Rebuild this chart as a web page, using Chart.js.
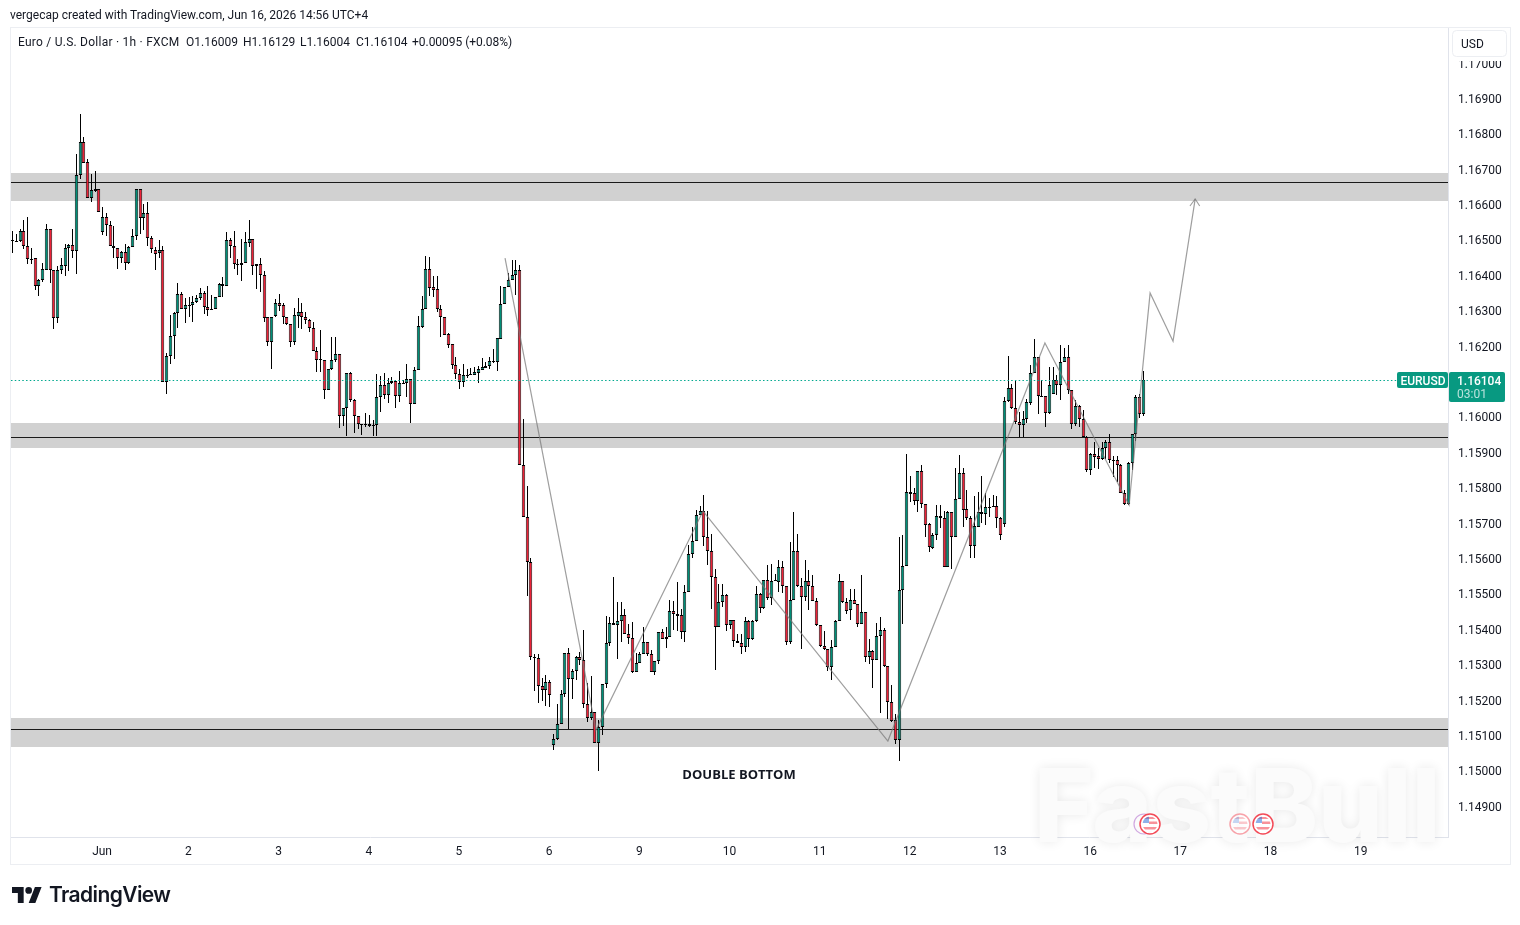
<!DOCTYPE html>
<html>
<head>
<meta charset="utf-8">
<title>EURUSD 1h</title>
<script src="https://cdn.jsdelivr.net/npm/chart.js@4/dist/chart.umd.min.js"></script>
<style>
  html, body { margin: 0; padding: 0; background: #fff; width: 1520px; height: 925px; overflow: hidden; }
  canvas { position: absolute; left: 0; top: 0; }
  .txt { position: absolute; white-space: pre; color: #131722; font-family: Roboto, sans-serif; font-size: 12px; line-height: 16px; }
  #credit { left: 10px; top: 7px; }
  .ohlc { top: 34px; }
  #brand { left: 49px; top: 881px; font-family: Inter, sans-serif; font-weight: 600; font-size: 21px; line-height: 28px; color: #131722; letter-spacing: -0.6px; }
  #logo { position: absolute; left: 12px; top: 887px; }
</style>
</head>
<body>
<canvas id="c" width="1520" height="925"></canvas>
<div class="txt" id="credit">vergecap created with TradingView.com, Jun 16, 2026 14:56 UTC+4</div>
<div class="txt ohlc" style="left:18px;letter-spacing:.24px">Euro / U.S. Dollar · 1h · FXCM</div>
<div class="txt ohlc" style="left:186px">O1.16009</div>
<div class="txt ohlc" style="left:243px">H1.16129</div>
<div class="txt ohlc" style="left:300px">L1.16004</div>
<div class="txt ohlc" style="left:356px">C1.16104</div>
<div class="txt ohlc" style="left:412px;letter-spacing:-.03px">+0.00095 (+0.08%)</div>
<svg id="logo" width="30" height="16" viewBox="0 0 36 19"><path fill="#131722" d="M14 19H7V7H0V0h14zM28 19h-8l7.5-19h8z"/><circle fill="#131722" cx="20" cy="4" r="4"/></svg>
<div class="txt" id="brand">TradingView</div>
<script>
// Hourly EURUSD candles, one entry per bar.
const opens = [
1.16499,1.16498,1.16497,1.16524,1.16484,1.16444,1.16448,1.16371,1.16388,1.16415,
1.16532,1.16416,1.16280,1.16414,1.16427,1.16476,1.16487,1.16470,1.16685,1.16778,
1.16719,1.16620,1.16643,1.16643,1.16523,1.16566,1.16541,1.16484,1.16476,1.16448,
1.16465,1.16436,1.16479,1.16510,1.16644,1.16563,1.16575,1.16507,1.16473,1.16462,
1.16473,1.16100,1.16173,1.16229,1.16295,1.16346,1.16305,1.16314,1.16315,1.16326,
1.16337,1.16351,1.16311,1.16306,1.16306,1.16340,1.16377,1.16369,1.16501,1.16484,
1.16433,1.16430,1.16436,1.16492,1.16504,1.16427,1.16433,1.16402,1.16281,1.16213,
1.16284,1.16321,1.16315,1.16283,1.16264,1.16211,1.16285,1.16296,1.16281,1.16274,
1.16252,1.16185,1.16163,1.16160,1.16077,1.16135,1.16160,1.16177,1.16004,1.16024,
1.16123,1.16047,1.16002,1.15981,1.15981,1.15979,1.15976,1.15976,1.16055,1.16089,
1.16063,1.16095,1.16101,1.16058,1.16093,1.16095,1.16106,1.16037,1.16132,1.16254,
1.16304,1.16417,1.16366,1.16361,1.16304,1.16281,1.16233,1.16205,1.16148,1.16122,
1.16100,1.16117,1.16119,1.16119,1.16125,1.16134,1.16138,1.16145,1.16154,1.16154,
1.16220,1.16318,1.16366,1.16386,1.16401,1.16414,1.15863,1.15716,1.15589,1.15323,
1.15320,1.15241,1.15229,1.15252,1.15074,1.15090,1.15131,1.15218,1.15332,1.15260,
1.15283,1.15323,1.15312,1.15190,1.15149,1.15165,1.15079,1.15123,1.15244,1.15362,
1.15419,1.15413,1.15424,1.15441,1.15388,1.15376,1.15279,1.15306,1.15331,1.15365,
1.15331,1.15279,1.15311,1.15393,1.15373,1.15378,1.15453,1.15444,1.15439,1.15391,
1.15504,1.15614,1.15650,1.15724,1.15735,1.15662,1.15622,1.15549,1.15407,1.15478,
1.15498,1.15413,1.15427,1.15368,1.15362,1.15351,1.15422,1.15373,1.15422,1.15501,
1.15460,1.15540,1.15487,1.15537,1.15534,1.15577,1.15521,1.15363,1.15484,1.15622,
1.15521,1.15491,1.15537,1.15523,1.15481,1.15413,1.15354,1.15345,1.15293,1.15351,
1.15422,1.15537,1.15478,1.15454,1.15482,1.15472,1.15414,1.15448,1.15321,1.15338,
1.15312,1.15380,1.15397,1.15295,1.15194,1.15143,1.15088,1.15510,1.15578,1.15787,
1.15784,1.15762,1.15847,1.15753,1.15698,1.15631,1.15666,1.15719,1.15714,1.15575,
1.15731,1.15662,1.15767,1.15841,1.15739,1.15714,1.15634,1.15690,1.15731,1.15727,
1.15743,1.15745,1.15747,1.15714,1.15697,1.16044,1.16083,1.16026,1.15986,1.15977,
1.15993,1.16040,1.16123,1.16168,1.16059,1.16060,1.16011,1.16065,1.16104,1.16089,
1.16154,1.16168,1.16075,1.15980,1.16032,1.15993,1.15944,1.15851,1.15896,1.15889,
1.15882,1.15911,1.15928,1.15877,1.15877,1.15863,1.15786,1.15754,1.15871,1.15953,
1.16055,1.16009];
const closes = [
1.16501,1.16497,1.16524,1.16484,1.16445,1.16447,1.16371,1.16388,1.16419,1.16532,
1.16416,1.16280,1.16414,1.16428,1.16476,1.16487,1.16470,1.16685,1.16778,1.16718,
1.16620,1.16640,1.16639,1.16578,1.16566,1.16541,1.16484,1.16476,1.16448,1.16465,
1.16436,1.16479,1.16510,1.16644,1.16563,1.16575,1.16507,1.16474,1.16461,1.16473,
1.16100,1.16173,1.16230,1.16295,1.16346,1.16305,1.16315,1.16315,1.16326,1.16337,
1.16351,1.16311,1.16303,1.16303,1.16340,1.16377,1.16369,1.16501,1.16484,1.16433,
1.16432,1.16435,1.16493,1.16504,1.16427,1.16433,1.16402,1.16280,1.16213,1.16283,
1.16321,1.16314,1.16283,1.16264,1.16211,1.16287,1.16296,1.16281,1.16273,1.16252,
1.16185,1.16162,1.16160,1.16077,1.16135,1.16160,1.16177,1.16004,1.16024,1.16123,
1.16047,1.16002,1.15981,1.15979,1.15979,1.15973,1.15973,1.16055,1.16089,1.16063,
1.16095,1.16102,1.16058,1.16095,1.16095,1.16106,1.16037,1.16132,1.16256,1.16304,
1.16417,1.16365,1.16359,1.16304,1.16281,1.16232,1.16204,1.16148,1.16122,1.16100,
1.16118,1.16119,1.16120,1.16126,1.16135,1.16140,1.16145,1.16157,1.16157,1.16222,
1.16318,1.16366,1.16386,1.16401,1.16414,1.15863,1.15716,1.15589,1.15323,1.15321,
1.15241,1.15229,1.15252,1.15213,1.15091,1.15131,1.15218,1.15332,1.15260,1.15283,
1.15323,1.15312,1.15190,1.15149,1.15165,1.15079,1.15123,1.15244,1.15362,1.15419,
1.15413,1.15424,1.15441,1.15388,1.15375,1.15279,1.15306,1.15331,1.15365,1.15330,
1.15279,1.15311,1.15393,1.15373,1.15378,1.15453,1.15443,1.15437,1.15391,1.15504,
1.15614,1.15650,1.15724,1.15735,1.15662,1.15622,1.15548,1.15407,1.15478,1.15498,
1.15413,1.15427,1.15367,1.15361,1.15351,1.15422,1.15373,1.15422,1.15501,1.15460,
1.15540,1.15487,1.15537,1.15539,1.15577,1.15521,1.15364,1.15484,1.15622,1.15521,
1.15491,1.15537,1.15522,1.15481,1.15412,1.15353,1.15344,1.15293,1.15351,1.15422,
1.15537,1.15478,1.15453,1.15482,1.15470,1.15414,1.15448,1.15321,1.15338,1.15312,
1.15380,1.15397,1.15295,1.15194,1.15141,1.15088,1.15510,1.15578,1.15787,1.15783,
1.15762,1.15847,1.15753,1.15696,1.15632,1.15666,1.15719,1.15713,1.15575,1.15731,
1.15662,1.15767,1.15841,1.15738,1.15713,1.15634,1.15691,1.15731,1.15727,1.15745,
1.15745,1.15748,1.15713,1.15665,1.16044,1.16083,1.16026,1.15986,1.15977,1.15993,
1.16041,1.16123,1.16168,1.16059,1.16057,1.16011,1.16091,1.16104,1.16089,1.16154,
1.16168,1.16075,1.15980,1.16032,1.15993,1.15944,1.15851,1.15896,1.15887,1.15882,
1.15911,1.15928,1.15877,1.15875,1.15863,1.15786,1.15754,1.15871,1.15953,1.16055,
1.16007,1.16104];
const highs = [
1.16525,1.16518,1.16530,1.16556,1.16564,1.16476,1.16448,1.16391,1.16434,1.16545,
1.16532,1.16416,1.16426,1.16450,1.16490,1.16490,1.16530,1.16742,1.16855,1.16790,
1.16730,1.16686,1.16694,1.16643,1.16592,1.16577,1.16555,1.16539,1.16476,1.16469,
1.16490,1.16484,1.16532,1.16644,1.16644,1.16601,1.16606,1.16511,1.16479,1.16501,
1.16482,1.16182,1.16287,1.16296,1.16378,1.16352,1.16335,1.16339,1.16343,1.16344,
1.16364,1.16355,1.16369,1.16344,1.16340,1.16379,1.16394,1.16522,1.16507,1.16525,
1.16445,1.16504,1.16523,1.16556,1.16504,1.16433,1.16450,1.16413,1.16281,1.16283,
1.16332,1.16347,1.16321,1.16283,1.16264,1.16307,1.16337,1.16321,1.16296,1.16278,
1.16269,1.16199,1.16246,1.16160,1.16135,1.16227,1.16225,1.16177,1.16024,1.16123,
1.16128,1.16050,1.16002,1.15981,1.16010,1.16005,1.15991,1.16120,1.16116,1.16123,
1.16109,1.16114,1.16101,1.16131,1.16104,1.16150,1.16106,1.16141,1.16285,1.16342,
1.16455,1.16451,1.16398,1.16398,1.16316,1.16281,1.16238,1.16205,1.16170,1.16135,
1.16150,1.16135,1.16137,1.16142,1.16144,1.16167,1.16156,1.16168,1.16192,1.16222,
1.16370,1.16366,1.16406,1.16443,1.16443,1.16428,1.15993,1.15804,1.15600,1.15330,
1.15330,1.15263,1.15272,1.15258,1.15103,1.15188,1.15228,1.15332,1.15347,1.15289,
1.15325,1.15337,1.15398,1.15249,1.15268,1.15165,1.15145,1.15244,1.15437,1.15435,
1.15548,1.15477,1.15477,1.15458,1.15416,1.15421,1.15334,1.15336,1.15405,1.15365,
1.15342,1.15311,1.15393,1.15400,1.15407,1.15482,1.15479,1.15534,1.15458,1.15524,
1.15637,1.15689,1.15736,1.15748,1.15779,1.15733,1.15670,1.15571,1.15529,1.15529,
1.15501,1.15427,1.15427,1.15388,1.15388,1.15435,1.15427,1.15427,1.15521,1.15503,
1.15540,1.15581,1.15585,1.15557,1.15597,1.15592,1.15521,1.15646,1.15730,1.15670,
1.15546,1.15595,1.15567,1.15553,1.15488,1.15413,1.15395,1.15345,1.15369,1.15427,
1.15557,1.15537,1.15489,1.15514,1.15514,1.15472,1.15553,1.15450,1.15372,1.15342,
1.15419,1.15435,1.15403,1.15295,1.15243,1.15161,1.15661,1.15667,1.15895,1.15833,
1.15800,1.15847,1.15864,1.15753,1.15699,1.15671,1.15751,1.15751,1.15735,1.15735,
1.15731,1.15856,1.15893,1.15855,1.15794,1.15720,1.15777,1.15789,1.15833,1.15786,
1.15770,1.15780,1.15777,1.15716,1.16056,1.16172,1.16092,1.16104,1.16014,1.16016,
1.16052,1.16148,1.16219,1.16168,1.16104,1.16060,1.16141,1.16141,1.16118,1.16203,
1.16195,1.16203,1.16075,1.16047,1.16035,1.16019,1.15945,1.15898,1.15929,1.15911,
1.15929,1.15934,1.15951,1.15889,1.15889,1.15868,1.15793,1.15873,1.15953,1.16063,
1.16066,1.16129];
const lows = [
1.16464,1.16497,1.16495,1.16474,1.16433,1.16433,1.16358,1.16342,1.16382,1.16415,
1.16379,1.16249,1.16266,1.16405,1.16399,1.16412,1.16449,1.16404,1.16673,1.16718,
1.16620,1.16606,1.16636,1.16578,1.16513,1.16512,1.16484,1.16448,1.16418,1.16436,
1.16416,1.16433,1.16479,1.16499,1.16518,1.16528,1.16483,1.16462,1.16416,1.16450,
1.16100,1.16065,1.16149,1.16164,1.16252,1.16305,1.16266,1.16283,1.16269,1.16323,
1.16330,1.16292,1.16286,1.16303,1.16306,1.16339,1.16339,1.16369,1.16449,1.16419,
1.16400,1.16384,1.16436,1.16481,1.16400,1.16361,1.16353,1.16269,1.16201,1.16136,
1.16281,1.16299,1.16263,1.16260,1.16199,1.16204,1.16250,1.16249,1.16264,1.16241,
1.16185,1.16126,1.16126,1.16052,1.16077,1.16133,1.16156,1.15968,1.15975,1.15947,
1.16043,1.15954,1.15966,1.15949,1.15972,1.15972,1.15947,1.15947,1.16015,1.16052,
1.16040,1.16093,1.16025,1.16041,1.16093,1.16057,1.15984,1.16037,1.16132,1.16252,
1.16304,1.16343,1.16340,1.16297,1.16225,1.16232,1.16196,1.16135,1.16107,1.16080,
1.16085,1.16111,1.16118,1.16118,1.16097,1.16133,1.16137,1.16136,1.16151,1.16131,
1.16220,1.16318,1.16366,1.16386,1.16345,1.15863,1.15716,1.15495,1.15314,1.15225,
1.15193,1.15196,1.15184,1.15180,1.15060,1.15086,1.15131,1.15210,1.15117,1.15203,
1.15256,1.15298,1.15177,1.15139,1.15145,1.15079,1.15000,1.15101,1.15234,1.15354,
1.15413,1.15315,1.15364,1.15386,1.15359,1.15277,1.15279,1.15306,1.15331,1.15325,
1.15279,1.15271,1.15303,1.15373,1.15347,1.15378,1.15397,1.15394,1.15372,1.15364,
1.15504,1.15602,1.15650,1.15724,1.15635,1.15583,1.15456,1.15285,1.15406,1.15463,
1.15395,1.15402,1.15350,1.15361,1.15331,1.15336,1.15350,1.15371,1.15421,1.15446,
1.15456,1.15484,1.15468,1.15537,1.15505,1.15503,1.15355,1.15359,1.15484,1.15520,
1.15343,1.15480,1.15454,1.15480,1.15410,1.15350,1.15341,1.15282,1.15258,1.15351,
1.15422,1.15474,1.15444,1.15425,1.15470,1.15406,1.15414,1.15307,1.15302,1.15233,
1.15312,1.15164,1.15294,1.15146,1.15139,1.15075,1.15029,1.15414,1.15578,1.15761,
1.15751,1.15732,1.15744,1.15662,1.15617,1.15627,1.15651,1.15687,1.15575,1.15575,
1.15571,1.15660,1.15767,1.15690,1.15709,1.15602,1.15602,1.15690,1.15699,1.15695,
1.15718,1.15745,1.15687,1.15651,1.15690,1.16042,1.16023,1.15981,1.15944,1.15944,
1.15983,1.16033,1.16123,1.16009,1.16057,1.15972,1.16009,1.16065,1.16061,1.16047,
1.16154,1.16066,1.15965,1.15974,1.15972,1.15944,1.15844,1.15837,1.15856,1.15852,
1.15878,1.15880,1.15871,1.15829,1.15816,1.15785,1.15751,1.15750,1.15851,1.15932,
1.15998,1.16004];

// Price scale and session labels.
const priceTicks = [1.149,1.15,1.151,1.152,1.153,1.154,1.155,1.156,1.157,1.158,1.159,1.16,1.161,1.162,1.163,1.164,1.165,1.166,1.167,1.168,1.169,1.17];
const dayTickBars = [24,47,71,95,119,143,167,191,215,239,263,287,311,335,359];
const dayTickLabels = ['Jun','2','3','4','5','6','9','10','11','12','13','16','17','18','19'];

// Support and resistance: band low, band high, level.
const zoneLows = [1.16610, 1.15913, 1.15067];
const zoneHighs = [1.16689, 1.15983, 1.15149];
const zoneLevels = [1.16663, 1.15942, 1.15119];

// Hand-drawn projection path, in bar number and price.
const pathBars = [131.1,155.3,183.8,233.0,274.8,297.2,302.8,308.9,314.8];
const pathPrices = [1.16449,1.15115,1.15734,1.15084,1.16209,1.15751,1.16350,1.16214,1.16616];
const arrowBars = [313.4,314.8,316.0];
const arrowPrices = [1.16596,1.16616,1.16596];

const lastPrice = 1.16104;
const UP = '#008f78', DOWN = '#ec2238', TAG = '#089981', FONT = 'Roboto, sans-serif';

const bars = opens.map((_, i) => i);
const barColors = bars.map(i => closes[i] >= opens[i] ? UP : DOWN);

// Snap each bar to whole device pixels so candle edges stay crisp.
const pixelSnap = {
  id: 'pixelSnap',
  beforeDatasetsDraw(chart) {
    chart.getSortedVisibleDatasetMetas().forEach(meta => {
      if (meta.type !== 'bar') return;
      meta.data.forEach(el => {
        el.x = Math.floor(el.x) + 0.5;
        const top = Math.round(Math.min(el.y, el.base));
        let bottom = Math.round(Math.max(el.y, el.base));
        if (bottom <= top) bottom = top + 1;
        el.y = top; el.base = bottom; el.height = bottom - top;
      });
    });
  }
};

function drawFlag(ctx, x, y, alpha) {
  ctx.save();
  ctx.globalAlpha = alpha;
  ctx.beginPath(); ctx.arc(x, y, 10, 0, Math.PI * 2);
  ctx.fillStyle = '#fff'; ctx.fill();
  ctx.lineWidth = 1.5; ctx.strokeStyle = '#f23645'; ctx.stroke();
  ctx.beginPath(); ctx.arc(x, y, 7.5, 0, Math.PI * 2); ctx.clip();
  ctx.globalAlpha = alpha * 0.6;
  ctx.fillStyle = '#fff'; ctx.fillRect(x - 8, y - 8, 16, 16);
  ctx.fillStyle = '#f23645';
  ctx.fillRect(x - 8, y - 7, 16, 2); ctx.fillRect(x - 1, y - 2.5, 9, 2.5); ctx.fillRect(x - 8, y + 3, 16, 2.5);
  ctx.fillStyle = '#2f6fd6'; ctx.fillRect(x - 8, y - 8, 7, 7);
  ctx.restore();
}

// Bands, levels and watermark sit under the candles.
const backdrop = {
  id: 'backdrop',
  beforeDraw(chart) {
    const { ctx } = chart;
    ctx.save();
    ctx.strokeStyle = '#eceef2'; ctx.lineWidth = 1;
    ctx.strokeRect(10.5, 27.5, 1500, 837);
    ctx.restore();
  },
  beforeDatasetsDraw(chart) {
    const { ctx, chartArea: a, scales: { y } } = chart;
    ctx.save();
    ctx.font = '800 102px Inter, sans-serif';
    ctx.textBaseline = 'alphabetic'; ctx.textAlign = 'left';
    ctx.shadowColor = 'rgba(0,0,0,0.09)'; ctx.shadowBlur = 12;
    ctx.fillStyle = '#fbfbfb';
    ctx.fillText('FastBull', 1034, 842);
    ctx.restore();

    ctx.save();
    ctx.beginPath(); ctx.rect(a.left, a.top, a.width, a.height); ctx.clip();
    zoneLows.forEach((low, i) => {
      const top = Math.round(y.getPixelForValue(zoneHighs[i]));
      const bottom = Math.round(y.getPixelForValue(low));
      ctx.fillStyle = '#d1d1d1';
      ctx.fillRect(a.left, top, a.width, bottom - top);
      ctx.fillStyle = '#1a1a1a';
      ctx.fillRect(a.left, Math.round(y.getPixelForValue(zoneLevels[i])), a.width, 1);
    });
    ctx.restore();
  },
  afterDatasetsDraw(chart) {
    const { ctx, chartArea: a, scales: { y } } = chart;
    const py = Math.floor(y.getPixelForValue(lastPrice)) + 0.5;
    ctx.save();
    ctx.strokeStyle = '#00a88e'; ctx.lineWidth = 1.2; ctx.setLineDash([1.5, 2.26]);
    ctx.beginPath(); ctx.moveTo(a.left, py); ctx.lineTo(1397, py); ctx.stroke();
    ctx.restore();

    ctx.save();
    ctx.fillStyle = '#131722';
    ctx.font = '700 13px "Open Sans", sans-serif';
    ctx.textAlign = 'center'; ctx.textBaseline = 'middle';
    ctx.fillText('DOUBLE BOTTOM', 739, 775);
    ctx.restore();

    // Economic calendar markers along the time axis.
    ctx.save();
    ctx.globalAlpha = 0.5; ctx.strokeStyle = '#a855c8'; ctx.lineWidth = 1.2;
    ctx.beginPath(); ctx.arc(1144, 824, 10, 0, Math.PI * 2); ctx.stroke();
    ctx.restore();
    drawFlag(ctx, 1150, 824, 0.9);
    drawFlag(ctx, 1240, 824, 0.45);
    drawFlag(ctx, 1263, 824, 0.9);
  },
  afterDraw(chart) {
    const { ctx, scales: { y } } = chart;
    const py = y.getPixelForValue(lastPrice);
    ctx.save();
    // Currency selector over the top of the price axis.
    ctx.fillStyle = '#fff';
    ctx.fillRect(1449, 28, 61, 33);
    ctx.strokeStyle = '#eceef2'; ctx.lineWidth = 1;
    ctx.beginPath(); ctx.roundRect(1452.5, 30.5, 54, 26, 4); ctx.fill(); ctx.stroke();
    ctx.fillStyle = '#131722'; ctx.font = '12px ' + FONT;
    ctx.textAlign = 'left'; ctx.textBaseline = 'middle';
    ctx.fillText('USD', 1461, 44.5);

    // Symbol and last-price tags.
    ctx.fillStyle = TAG;
    ctx.beginPath(); ctx.roundRect(1397, Math.round(py) - 8, 51, 16, 2); ctx.fill();
    ctx.beginPath(); ctx.roundRect(1449, Math.round(py) - 8, 56, 30, 2); ctx.fill();
    ctx.fillStyle = '#fff'; ctx.font = '500 12px ' + FONT;
    ctx.textAlign = 'center';
    ctx.fillText('EURUSD', 1423, Math.round(py) + 1.5);
    ctx.textAlign = 'left';
    ctx.fillText('1.16104', 1457, Math.round(py) + 1.5);
    ctx.fillStyle = 'rgba(255,255,255,0.72)'; ctx.font = '12px ' + FONT;
    ctx.fillText('03:01', 1457, Math.round(py) + 15);
    ctx.restore();
  }
};

new Chart(document.getElementById('c'), {
  data: {
    datasets: [
      {
        type: 'line', order: 1, data: pathBars.map((b, i) => ({ x: b, y: pathPrices[i] })),
        borderColor: 'rgba(120,120,120,0.72)', borderWidth: 1.2, pointRadius: 0, tension: 0, fill: false
      },
      {
        type: 'line', order: 1, data: arrowBars.map((b, i) => ({ x: b, y: arrowPrices[i] })),
        borderColor: 'rgba(120,120,120,0.72)', borderWidth: 1.1, pointRadius: 0, tension: 0, fill: false
      },
      {
        type: 'bar', order: 2, grouped: false, barThickness: 3.4, inflateAmount: 0,
        data: bars.map(i => ({ x: i, y: [opens[i], closes[i]] })),
        backgroundColor: barColors, borderColor: '#000', borderWidth: 0.9, borderSkipped: false
      },
      {
        type: 'bar', order: 3, grouped: false, barThickness: 1, inflateAmount: 0,
        data: bars.map(i => ({ x: i, y: [lows[i], highs[i]] })),
        backgroundColor: '#000', borderWidth: 0
      }
    ]
  },
  options: {
    responsive: false,
    animation: false,
    events: [],
    layout: { padding: { left: 11, top: 28, right: 10, bottom: 61 } },
    plugins: { legend: { display: false }, tooltip: { enabled: false } },
    scales: {
      x: {
        type: 'linear', min: -0.4, max: 382.09, offset: false,
        grid: { display: false, drawTicks: false },
        border: { display: true, color: '#e0e3eb' },
        afterBuildTicks: axis => { axis.ticks = dayTickBars.map(v => ({ value: v })); },
        afterFit: axis => { axis.height = 27; },
        ticks: {
          autoSkip: false, maxRotation: 0, padding: 8, labelOffset: -0.6, color: '#131722',
          font: { family: FONT, size: 12 },
          callback: v => dayTickLabels[dayTickBars.indexOf(v)]
        }
      },
      y: {
        type: 'linear', position: 'right', min: 1.14813, max: 1.17099,
        grid: { display: false, drawTicks: false },
        border: { display: true, color: '#e0e3eb' },
        afterBuildTicks: axis => { axis.ticks = priceTicks.map(v => ({ value: v })); },
        afterFit: axis => { axis.width = 62; },
        ticks: {
          autoSkip: false, padding: 10, labelOffset: 1.5, color: '#131722',
          font: { family: FONT, size: 12 },
          callback: v => v.toFixed(5)
        }
      }
    }
  },
  plugins: [pixelSnap, backdrop]
});
</script>
</body>
</html>
